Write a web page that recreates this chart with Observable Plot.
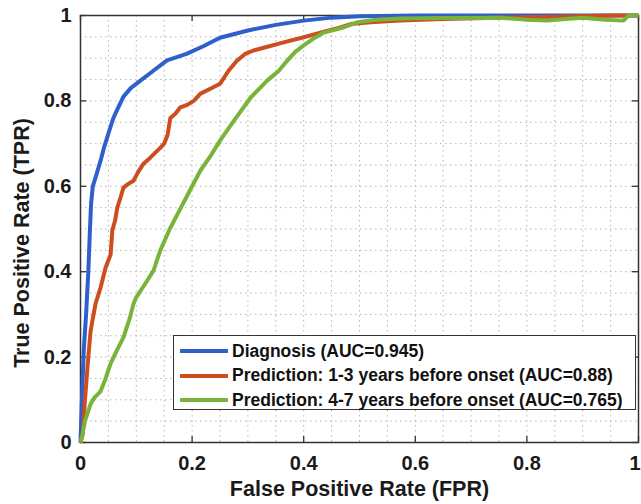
<!DOCTYPE html>
<html><head><meta charset="utf-8">
<script src="https://cdn.jsdelivr.net/npm/d3@7"></script>
<script src="https://cdn.jsdelivr.net/npm/@observablehq/plot@0.6"></script>
<style>
html,body{margin:0;padding:0;background:#fff;}
#wrap{position:relative;width:641px;height:504px;font-family:"Liberation Sans",Arial,Helvetica,sans-serif;}
#legend{position:absolute;left:173px;top:335px;width:463px;height:75px;border:1.5px solid #333;background:#fff;box-sizing:border-box;}
.row{position:absolute;left:0;height:24px;display:flex;align-items:center;}
.sw{width:48px;height:4px;margin-left:6px;margin-right:4px;}
.lab{font-weight:bold;font-size:17.5px;color:#111;white-space:nowrap;}
</style>
</head><body>
<div id="wrap"></div>
<script>
const seriesNames = ["Diagnosis (AUC=0.945)", "Prediction: 1-3 years before onset (AUC=0.88)", "Prediction: 4-7 years before onset (AUC=0.765)"];
const seriesColors = ["#2f5fcb", "#cc4e1e", "#79b33a"];
const xTickLabels = [0, 0.2, 0.4, 0.6, 0.8, 1];
const yTickLabels = [0, 0.2, 0.4, 0.6, 0.8, 1];

const diagFPR = [0, 0.003, 0.006, 0.01, 0.014, 0.017, 0.019, 0.022, 0.028, 0.036, 0.042, 0.048, 0.054, 0.059, 0.066, 0.077, 0.09, 0.108, 0.13, 0.155, 0.19, 0.22, 0.25, 0.3, 0.35, 0.4, 0.45, 0.5, 0.6, 0.7, 0.8, 0.9, 1];
const diagTPR = [0, 0.12, 0.22, 0.3, 0.4, 0.5, 0.56, 0.6, 0.625, 0.66, 0.69, 0.715, 0.74, 0.76, 0.78, 0.81, 0.83, 0.848, 0.87, 0.895, 0.91, 0.928, 0.948, 0.965, 0.978, 0.988, 0.995, 0.998, 1, 1, 1, 1, 1];

const pred13FPR = [0, 0.004, 0.008, 0.011, 0.014, 0.018, 0.022, 0.027, 0.036, 0.045, 0.054, 0.057, 0.062, 0.066, 0.072, 0.077, 0.085, 0.095, 0.104, 0.113, 0.125, 0.135, 0.143, 0.15, 0.156, 0.161, 0.17, 0.179, 0.19, 0.203, 0.215, 0.238, 0.25, 0.265, 0.281, 0.295, 0.31, 0.33, 0.364, 0.4, 0.43, 0.46, 0.484, 0.52, 0.573, 0.65, 0.75, 0.85, 0.95, 1];
const pred13TPR = [0, 0.02, 0.1, 0.15, 0.2, 0.26, 0.29, 0.325, 0.363, 0.41, 0.44, 0.497, 0.52, 0.55, 0.575, 0.597, 0.605, 0.613, 0.635, 0.653, 0.667, 0.68, 0.69, 0.7, 0.72, 0.76, 0.77, 0.785, 0.79, 0.8, 0.817, 0.832, 0.84, 0.87, 0.895, 0.91, 0.918, 0.925, 0.937, 0.949, 0.96, 0.97, 0.98, 0.984, 0.988, 0.992, 0.995, 0.997, 1, 1];

const pred47FPR = [0, 0.003, 0.008, 0.018, 0.025, 0.036, 0.045, 0.054, 0.065, 0.077, 0.088, 0.095, 0.1, 0.11, 0.12, 0.131, 0.143, 0.16, 0.18, 0.2, 0.215, 0.235, 0.25, 0.265, 0.278, 0.305, 0.335, 0.355, 0.371, 0.385, 0.4, 0.42, 0.436, 0.471, 0.496, 0.53, 0.573, 0.65, 0.753, 0.8, 0.836, 0.87, 0.9, 0.94, 0.973, 0.982, 1];
const pred47TPR = [0, 0.016, 0.05, 0.09, 0.105, 0.12, 0.15, 0.185, 0.215, 0.246, 0.29, 0.325, 0.34, 0.36, 0.38, 0.403, 0.45, 0.5, 0.55, 0.6, 0.637, 0.675, 0.707, 0.735, 0.759, 0.808, 0.848, 0.87, 0.895, 0.915, 0.93, 0.948, 0.96, 0.972, 0.984, 0.99, 0.993, 0.994, 0.995, 0.99, 0.988, 0.992, 0.995, 0.99, 0.988, 1, 1];

const series = [
  {name: seriesNames[0], color: seriesColors[0], x: diagFPR, y: diagTPR},
  {name: seriesNames[1], color: seriesColors[1], x: pred13FPR, y: pred13TPR},
  {name: seriesNames[2], color: seriesColors[2], x: pred47FPR, y: pred47TPR}
];

const gridVals = d3.range(0, 1.0001, 0.05).map(v => +v.toFixed(2));
const fmt = d => String(d);
const ink = "#1a1a1a";

const lineMarks = series.map(s => Plot.line(s.x.map((xv, i) => ({x: xv, y: s.y[i]})), {x: "x", y: "y", stroke: s.color, strokeWidth: 4, strokeLinejoin: "round", strokeLinecap: "butt"}));

const chart = Plot.plot({
  width: 641, height: 504,
  marginLeft: 80, marginRight: 3, marginTop: 15, marginBottom: 62,
  style: {fontFamily: "'Liberation Sans', Arial, Helvetica, sans-serif", fontWeight: "bold", color: ink, background: "#fff"},
  x: {domain: [0, 1]},
  y: {domain: [0, 1]},
  marks: [
    Plot.ruleX(gridVals.filter(v => v > 0 && v < 1), {stroke: "#b5b5b5", strokeWidth: 1, strokeDasharray: "1.5,3.5"}),
    Plot.ruleY(gridVals.filter(v => v > 0 && v < 1), {stroke: "#b5b5b5", strokeWidth: 1, strokeDasharray: "1.5,3.5"}),
    Plot.ruleX(xTickLabels, {y1: 0, y2: 0.014, stroke: "#333", strokeWidth: 1.3}),
    Plot.ruleX(xTickLabels, {y1: 0.986, y2: 1, stroke: "#333", strokeWidth: 1.3}),
    Plot.ruleY(yTickLabels, {x1: 0, x2: 0.011, stroke: "#333", strokeWidth: 1.3}),
    Plot.ruleY(yTickLabels, {x1: 0.989, x2: 1, stroke: "#333", strokeWidth: 1.3}),
    Plot.frame({stroke: "#333", strokeWidth: 1.5}),
    Plot.axisX({ticks: xTickLabels.filter(v => v < 1), tickFormat: fmt, tickSize: 0, tickPadding: 13, fontSize: 20, label: null}),
    Plot.text(xTickLabels.filter(v => v === 1), {x: d => d, text: fmt, frameAnchor: "bottom", textAnchor: "end", lineAnchor: "middle", dx: 2, dy: 21, fontSize: 20, fontWeight: "bold", fill: ink}),
    Plot.axisY({ticks: yTickLabels, tickFormat: fmt, tickSize: 0, tickPadding: 9, fontSize: 20, label: null}),
    Plot.text(["False Positive Rate (FPR)"], {frameAnchor: "bottom", textAnchor: "middle", dy: 53, fontSize: 21.5, fontWeight: "bold", fill: ink}),
    Plot.text(["True Positive Rate (TPR)"], {frameAnchor: "left", textAnchor: "middle", dx: -58, dy: 14, rotate: -90, fontSize: 21.5, fontWeight: "bold", fill: ink}),
    ...lineMarks
  ]
});
const wrap = document.getElementById("wrap");
wrap.appendChild(chart);

const legend = document.createElement("div");
legend.id = "legend";
series.forEach((s, i) => {
  const row = document.createElement("div");
  row.className = "row";
  row.style.top = (3 + i * 24.5) + "px";
  const sw = document.createElement("div");
  sw.className = "sw"; sw.style.background = s.color;
  const lab = document.createElement("span");
  lab.className = "lab"; lab.textContent = s.name;
  row.appendChild(sw); row.appendChild(lab);
  legend.appendChild(row);
});
wrap.appendChild(legend);
</script>
</body></html>
